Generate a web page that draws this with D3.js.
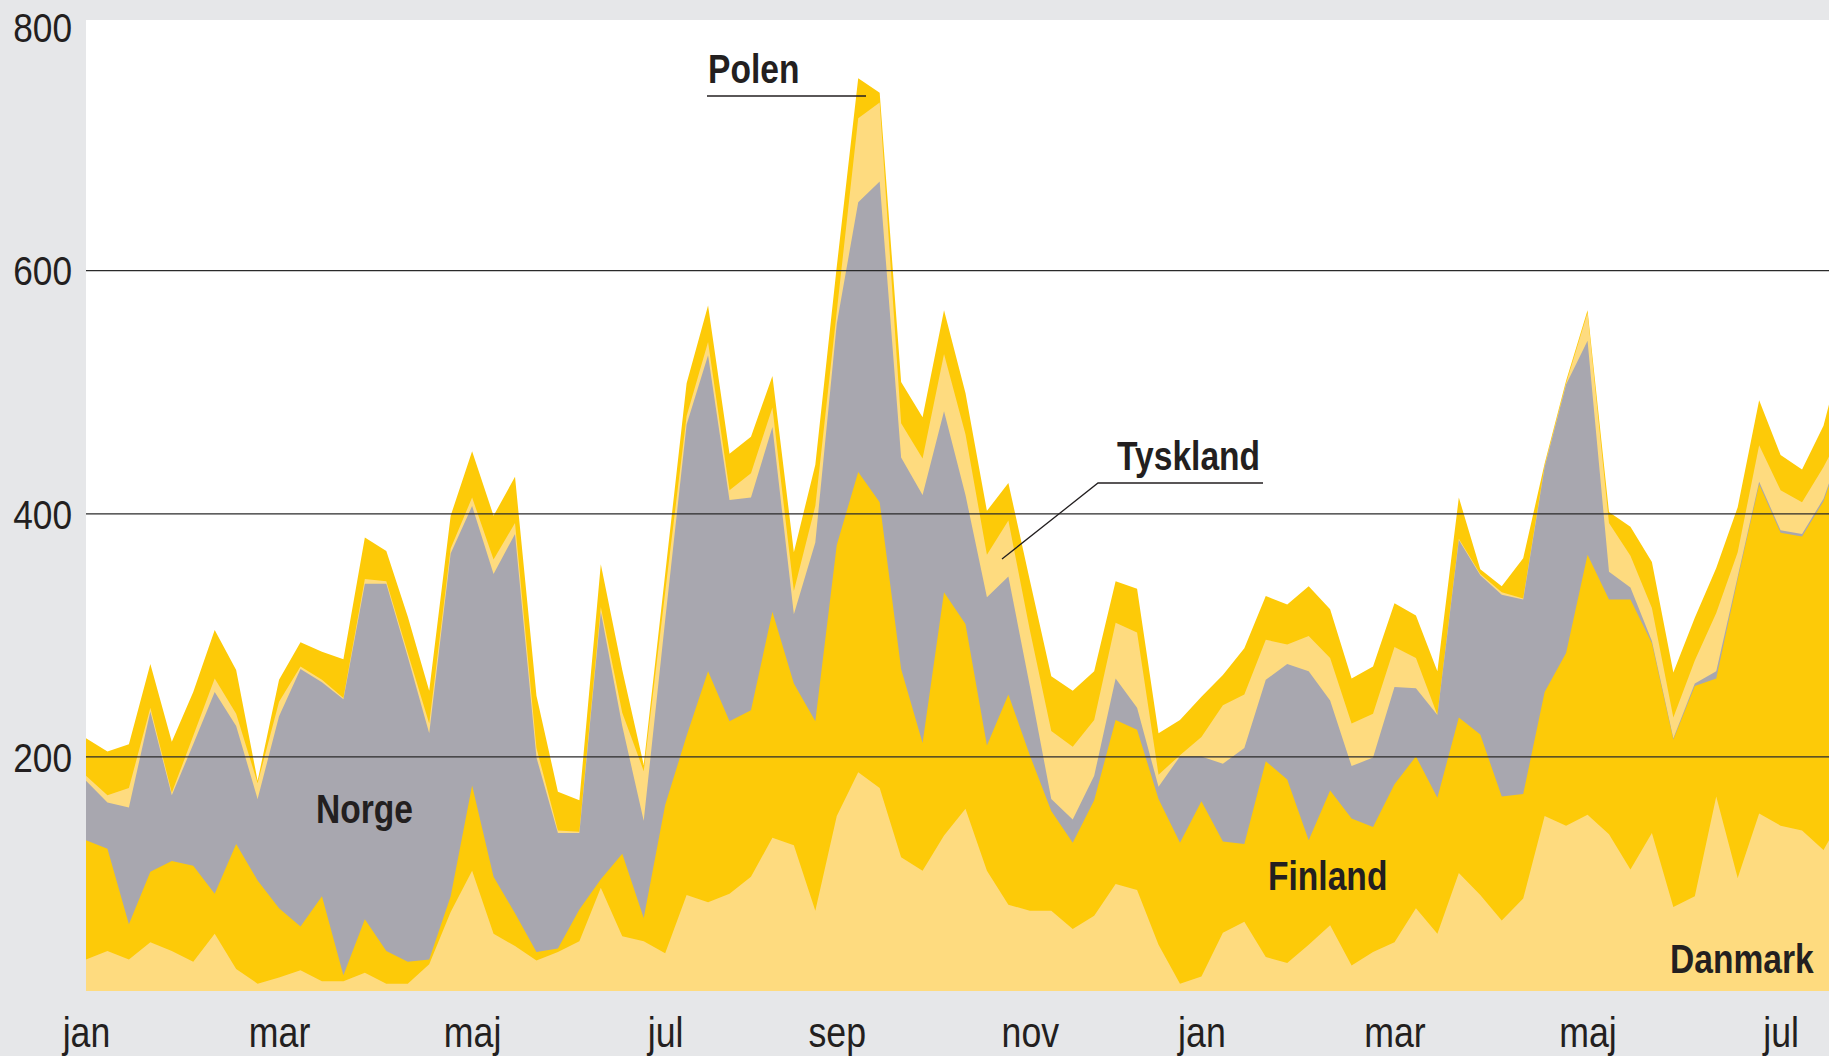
<!DOCTYPE html>
<html><head><meta charset="utf-8">
<script src="https://cdn.jsdelivr.net/npm/d3@7"></script>
<style>
html,body{margin:0;padding:0;background:#e6e7e9;}
svg{display:block;}
.lab{font-family:"Liberation Sans",Arial,Helvetica,sans-serif;}
</style></head><body>
<svg id="chart" width="1829" height="1056"></svg>
<script>
// ---- data (weekly values, stacked bottom to top) ----
const monthLabels = ["jan","mar","maj","jul","sep","nov","jan","mar","maj","jul"];
const monthWeekIndex = [0,9,18,27,35,44,52,61,70,79];
const yTicks = [200,400,600,800];
const gridValues = [200,400,600];

const danmark = [33,40,33,47,40,31,54,25,13,18, 24,15,15,22,13,13,29,72,106,54,
  44,32,39,48,92,52,48,38,86,80, 87,101,133,127,73,151,187,174,117,106,
  135,157,106,78,73,73,58,69,95,90, 45,13,19,55,64,35,30,45,61,28,
  39,47,75,54,104,86,65,83,151,143, 152,136,107,137,76,85,167,100,153,143,
  139,123,154];
const finland = [98,84,29,58,74,79,33,103,85,57, 36,70,5,44,27,18,4,13,70,47,
  27,7,3,26,7,68,19,122,131,190, 142,137,186,133,156,223,247,235,155,105,
  200,152,103,173,128,82,71,95,135,132, 120,116,144,75,64,161,151,86,111,121,
  103,130,125,112,128,132,102,86,102,142, 214,193,222,156,138,173,97,246,271,241,
  242,287,306];
const norge = [49,38,96,132,54,100,166,97,67,158, 212,176,227,276,302,251,186,282,230,249,
  312,160,95,63,220,105,80,152,256,260, 182,175,152,57,147,182,222,264,174,204,
  149,106,122,97,57,10,19,20,34,18, 10,71,37,64,79,67,95,139,74,43,
  57,80,56,68,146,131,166,160,185,221, 176,23,10,2,1,2,6,2,2,2,
  2,2,2];
const tyskland = [4,6,16,3,2,7,11,10,13,12, 2,2,1,4,2,3,8,4,7,12,
  9,8,2,1,4,11,41,23,7,11, 8,20,16,19,30,10,69,65,28,30,
  47,50,35,46,46,56,60,46,46,62, 10,1,16,48,44,33,16,29,35,35,
  36,33,25,0,1,1,2,1,1,1, 23,40,26,27,17,19,48,20,30,33,
  26,26,10];
const polen = [31,36,36,36,42,36,40,36,2,18, 20,23,32,34,25,30,27,27,38,36,
  38,43,32,26,35,35,5,15,27,30, 30,30,26,32,34,37,33,8,34,34,
  36,34,36,31,41,45,46,40,34,36, 34,29,33,25,38,36,33,41,40,37,
  39,36,35,36,34,4,5,33,2,2, 2,9,24,38,37,35,37,37,37,29,
  27,34,68];

const seriesKeys = ["Danmark","Finland","Norge","Tyskland","Polen"];
const seriesColors = ["#fedb7f","#fdca08","#a8a7af","#fedb7f","#fdca08"];

// ---- layout ----
const W = 1829, H = 1056;
const plot = {left:86, top:20, right:1829, bottom:991};
const svg = d3.select("#chart");
svg.append("rect").attr("width",W).attr("height",H).attr("fill","#e6e7e9");
svg.append("rect").attr("x",plot.left).attr("y",plot.top)
  .attr("width",plot.right-plot.left).attr("height",plot.bottom-plot.top).attr("fill","#ffffff");
svg.append("defs").append("clipPath").attr("id","clip").append("rect")
  .attr("x",plot.left).attr("y",plot.top)
  .attr("width",plot.right-plot.left).attr("height",plot.bottom-plot.top);

const x = d3.scaleLinear().domain([0,81]).range([86,1823.5]);
const y = d3.scaleLinear().domain([0,800]).range([999.5,27.1]);

const rows = danmark.map((d,i)=>({i, Danmark:d, Finland:finland[i], Norge:norge[i], Tyskland:tyskland[i], Polen:polen[i]}));
const layers = d3.stack().keys(seriesKeys)(rows);

const area = d3.area()
  .x(d=>x(d.data.i))
  .y0(()=>y(0))
  .y1(d=>y(d[1]));

const gA = svg.append("g").attr("clip-path","url(#clip)");
// painter's order: top layer first, each filled down to zero
for (let k = layers.length-1; k >= 0; k--) {
  gA.append("path").datum(layers[k]).attr("d",area).attr("fill",seriesColors[k]);
}

// gridlines
const grid = svg.append("g").attr("transform",`translate(${plot.left},0)`)
  .call(d3.axisRight(y).tickValues(gridValues).tickSize(plot.right-plot.left).tickFormat(""));
grid.select(".domain").remove();
grid.selectAll("line").attr("stroke","#2a2a2a").attr("stroke-width",1.3);

// y labels
const ya = svg.append("g").attr("transform","translate(72,0)")
  .call(d3.axisLeft(y).tickValues(yTicks).tickSize(0).tickPadding(0));
ya.select(".domain").remove();
ya.selectAll("text").attr("class","lab").attr("x",0).attr("font-size",41).attr("fill","#231f20")
  .attr("dy","0.36em").attr("font-family",null).attr("transform","scale(0.86,1)");

// x labels
const xa = svg.append("g").attr("transform","translate(0,1047)")
  .call(d3.axisBottom(x).tickValues(monthWeekIndex).tickSize(0).tickFormat((d,i)=>monthLabels[i]));
xa.select(".domain").remove();
xa.selectAll("text").attr("class","lab").attr("y",0).attr("dy",0).attr("font-size",42)
  .attr("fill","#231f20").attr("font-family",null).attr("transform","scale(0.85,1)");

// series labels
const labels = [
  {t:"Polen", x:708, y:83},
  {t:"Tyskland", x:1117, y:470},
  {t:"Norge", x:316, y:823},
  {t:"Finland", x:1268, y:890},
  {t:"Danmark", x:1670, y:973}
];
svg.selectAll("text.slab").data(labels).enter().append("text")
  .attr("class","lab slab").attr("transform",d=>`translate(${d.x},${d.y}) scale(0.84,1)`)
  .attr("font-size",40).attr("font-weight","bold").attr("fill","#231f20").text(d=>d.t);

// leader lines
svg.append("path").attr("d","M707,96 L866,96").attr("stroke","#231f20").attr("stroke-width",1.3).attr("fill","none");
svg.append("path").attr("d","M1002,559 L1098,483 L1263,483").attr("stroke","#231f20").attr("stroke-width",1.3).attr("fill","none");
</script>
</body></html>
